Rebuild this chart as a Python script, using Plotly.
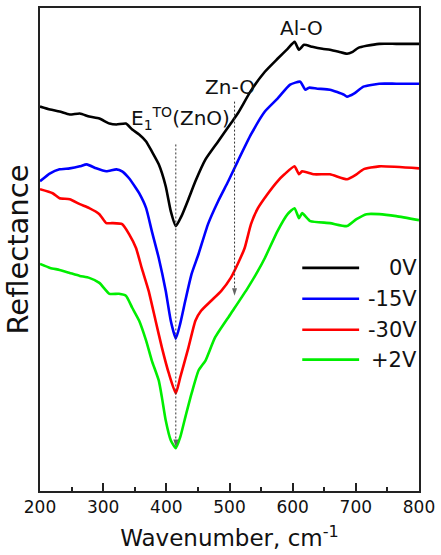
import plotly.graph_objects as go

# ---- data (wavenumber, cm^-1 ; reflectance, arb. units) ----
wn_0V = [200, 216, 231, 247, 263, 278, 294, 310, 321, 336, 346, 357, 368, 377, 388, 399, 407, 415,
         424, 435, 446, 462, 482, 502, 513, 534, 556, 576, 592, 603, 610, 618, 631, 647, 659, 673,
         686, 695, 704, 717, 737, 764, 800]
r_0V = [77.2, 76.6, 76.2, 75.6, 75.8, 75.2, 74.8, 73.8, 73.6, 73.8, 72.6, 71.6, 70.2, 68.2, 65.6, 61.2, 56.2, 53.2,
        55.2, 58.6, 62.2, 66.6, 70.2, 73.8, 75.8, 80.4, 84.2, 86.8, 88.8, 90.2, 88.6, 89.6, 89.2, 88.8, 88.6, 88.2,
        87.8, 88.2, 89.0, 89.4, 89.8, 89.8, 89.8]

wn_m15V = [200, 216, 231, 247, 263, 274, 289, 305, 321, 330, 341, 352, 357, 368, 377, 388, 399, 407, 415,
           422, 430, 440, 451, 466, 482, 498, 513, 534, 556, 576, 596, 612, 620, 626, 639, 659, 681,
           686, 697, 712, 737, 764, 800]
r_m15V = [62.2, 63.8, 64.6, 64.8, 65.2, 65.6, 64.8, 64.2, 64.6, 64.2, 62.8, 60.8, 59.8, 56.8, 52.2, 46.8, 40.2, 34.2, 30.6,
          33.6, 38.2, 43.6, 47.6, 53.6, 58.2, 62.2, 66.2, 71.6, 76.2, 78.8, 81.6, 82.2, 80.6, 81.0, 80.8, 80.6, 79.6,
          79.2, 79.8, 81.2, 81.8, 81.8, 81.8]

wn_m30V = [200, 220, 231, 247, 263, 278, 294, 305, 314, 330, 341, 352, 361, 372, 383, 393, 404, 415,
           422, 435, 446, 455, 471, 487, 502, 513, 524, 534, 545, 560, 576, 587, 603, 610, 615, 634,
           659, 686, 701, 712, 737, 800]
r_m30V = [60.6, 59.8, 58.8, 58.6, 57.6, 56.8, 55.6, 53.8, 53.8, 53.6, 51.6, 48.8, 44.8, 40.2, 34.2, 28.8, 23.6, 19.6,
          22.8, 28.8, 34.2, 36.2, 38.2, 40.2, 42.8, 45.6, 48.8, 53.6, 56.8, 59.6, 62.2, 63.6, 65.2, 63.6, 64.2, 63.6,
          63.6, 62.6, 63.6, 64.6, 65.2, 64.8]

wn_p2V = [200, 216, 231, 247, 263, 278, 294, 310, 325, 336, 346, 357, 368, 377, 388, 393, 399, 407, 415,
          422, 430, 440, 451, 462, 477, 502, 529, 545, 556, 576, 592, 603, 610, 615, 628, 659, 686,
          701, 717, 737, 764, 800]
r_p2V = [45.6, 44.8, 44.4, 43.8, 43.2, 42.8, 41.8, 39.6, 39.6, 39.2, 36.8, 34.2, 30.2, 26.2, 22.2, 18.8, 14.2, 10.2, 8.6,
         10.8, 14.8, 19.6, 24.2, 26.2, 30.8, 35.6, 40.8, 44.2, 46.8, 52.2, 55.6, 56.8, 54.8, 55.8, 54.2, 53.8, 53.2,
         54.6, 55.6, 55.6, 55.2, 54.4]

series_names = ["0V", "-15V", "-30V", "+2V"]
series_colors = ["#000000", "#0000FF", "#FF0000", "#00EE00"]
series_x = [wn_0V, wn_m15V, wn_m30V, wn_p2V]
series_y = [r_0V, r_m15V, r_m30V, r_p2V]

# guide lines: (wavenumber, top, arrow tip)
guide_wn = [415, 508]
guide_top = [69.6, 78.2]
guide_tip = [8.8, 39.2]

# band labels
band_text = ["Al-O", "Zn-O", "E<sub>1</sub><sup>TO</sup>(ZnO)"]
band_wn = [614, 501, 422]
band_r = [93.0, 81.2, 74.8]

FONT = "DejaVu Sans"

fig = go.Figure()
for name, col, xs, ys in zip(series_names, series_colors, series_x, series_y):
    fig.add_trace(go.Scatter(x=xs, y=ys, mode="lines", name=name, showlegend=False,
                             line=dict(color=col, width=2.6, shape="spline", smoothing=0.5)))

for gx, gt, gb in zip(guide_wn, guide_top, guide_tip):
    fig.add_trace(go.Scatter(x=[gx, gx], y=[gt, gb], mode="lines+markers", showlegend=False,
                             hoverinfo="skip",
                             line=dict(color="#333333", width=1, dash="2px,2px"),
                             marker=dict(symbol="arrow", size=[0, 8], angleref="previous",
                                         color="#222222", line=dict(width=0))))

for t, bx, by in zip(band_text, band_wn, band_r):
    fig.add_annotation(x=bx, y=by, xref="x", yref="y", text=t, showarrow=False,
                       font=dict(family=FONT, size=20, color="#111111"))

# custom legend (line sample + right aligned label)
leg_y = [0.462, 0.398, 0.334, 0.272]
for name, col, ly in zip(series_names, series_colors, leg_y):
    fig.add_shape(type="line", xref="paper", yref="paper", x0=0.692, x1=0.842, y0=ly, y1=ly,
                  line=dict(color=col, width=2.6))
    fig.add_annotation(x=1.0, y=ly, xref="paper", yref="paper", text=name, showarrow=False,
                       xanchor="right", yanchor="middle", font=dict(family=FONT, size=21, color="#111111"))

fig.update_layout(
    width=441, height=555,
    margin=dict(l=40, r=18, t=6, b=64),
    paper_bgcolor="white", plot_bgcolor="white",
    font=dict(family=FONT, color="#111111"),
    showlegend=False,
)
fig.update_xaxes(range=[200, 800], dtick=100, showgrid=False, zeroline=False,
                 showline=True, mirror=True, linecolor="#222222", linewidth=1.5,
                 ticks="inside", ticklen=8, tickwidth=1.5, tickcolor="#222222",
                 minor=dict(ticks="inside", ticklen=4, dtick=50, tickwidth=1.5, tickcolor="#222222"),
                 tickfont=dict(family=FONT, size=17),
                 title=dict(text="Wavenumber, cm<sup>-1</sup>", font=dict(family=FONT, size=23), standoff=14))
fig.update_yaxes(range=[0, 97], showgrid=False, zeroline=False, showticklabels=False, ticks="",
                 showline=True, mirror=True, linecolor="#222222", linewidth=1.5,
                 title=dict(text="Reflectance", font=dict(family=FONT, size=29), standoff=1))

fig.write_html("out.html", config={"displayModeBar": False},
               post_script="document.body.style.margin='0px';document.body.style.overflow='hidden';")
